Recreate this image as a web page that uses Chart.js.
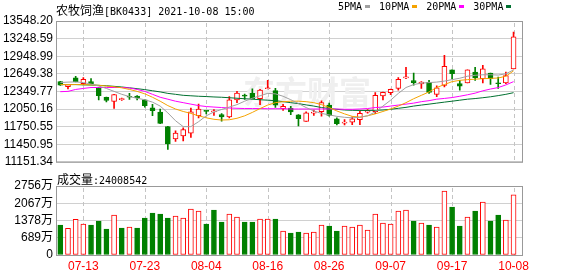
<!DOCTYPE html>
<html>
<head>
<meta charset="utf-8">
<script src="https://cdn.jsdelivr.net/npm/chart.js@4.4.0/dist/chart.umd.min.js"></script>
<style>
  body { margin: 0; width: 578px; height: 276px; background: #fff; position: relative; overflow: hidden; }
  canvas { position: absolute; left: 0; }
  #kline { top: 0; }
  #vol { top: 172px; }
  .txt { position: absolute; color: #000; white-space: nowrap; line-height: 14px; }
  .cjk { font: 12px "Noto Sans CJK SC", sans-serif; }
  .mono { font: 10px "DejaVu Sans Mono", monospace; }
  #title { left: 56px; top: 1px; }
  #volTitle { left: 57px; top: 170px; }
  #legend { left: 338px; top: 1px; display: flex; align-items: center; }
  #legend i { display: inline-block; width: 5px; height: 3px; margin: 0 9px 0 3px; }
</style>
</head>
<body>
<canvas id="kline" width="578" height="172"></canvas>
<canvas id="vol" width="578" height="104"></canvas>
<div id="title" class="txt"><span class="cjk">农牧饲渔</span><span class="mono">[BK0433] 2021-10-08 15:00</span></div>
<div id="legend" class="txt mono">
  <span>5PMA</span><i style="background:#a0a0a0"></i>
  <span>10PMA</span><i style="background:#f5a300"></i>
  <span>20PMA</span><i style="background:#ff00ff"></i>
  <span>30PMA</span><i style="background:#007030"></i>
</div>
<div id="volTitle" class="txt"><span class="cjk">成交量</span><span class="mono">:24008542</span></div>
<script>
const dates = ['07-08','07-09','07-12','07-13','07-14','07-15','07-16','07-19','07-20','07-21',
  '07-22','07-23','07-26','07-27','07-28','07-29','07-30','08-02','08-03','08-04',
  '08-05','08-06','08-09','08-10','08-11','08-12','08-13','08-16','08-17','08-18',
  '08-19','08-20','08-23','08-24','08-25','08-26','08-27','08-30','08-31','09-01',
  '09-02','09-03','09-06','09-07','09-08','09-09','09-10','09-13','09-14','09-15',
  '09-16','09-17','09-22','09-23','09-24','09-27','09-28','09-29','09-30','10-08'];

const open = [12516,12430,12580,12483,12516,12416,12250,12178,12210,12265,
  12270,12205,12072,11999,11750,11540,11590,11640,11938,12015,
  12000,11955,11917,12205,12272,12316,12228,12395,12362,12055,
  12067,11950,11838,11980,12005,12117,11884,11810,11828,11867,
  11998,12005,12272,12328,12400,12580,12533,12478,12505,12300,
  12450,12716,12483,12495,12678,12566,12660,12485,12495,12733];
const high = [12520,12470,12605,12583,12566,12420,12255,12300,12235,12316,
  12280,12210,12128,12050,11755,11680,11730,12067,12133,12018,
  12040,11972,12262,12350,12305,12395,12383,12540,12400,12128,
  12095,11955,12000,12030,12190,12150,11900,11870,11917,12012,
  12040,12328,12340,12390,12583,12760,12660,12515,12538,12445,
  12965,12716,12538,12716,12760,12795,12660,12595,12678,13360];
const low = [12450,12390,12510,12460,12475,12205,12172,12060,12195,12215,
  12205,12083,11938,11800,11362,11500,11505,11567,11900,11966,
  11940,11845,11900,12160,12215,12222,12122,12390,12078,12028,
  11955,11762,11838,11940,11930,11930,11780,11780,11785,11785,
  11980,11972,12205,12295,12372,12566,12455,12400,12316,12262,
  12428,12566,12372,12495,12538,12495,12470,12400,12483,12733];
const close = [12454,12465,12515,12555,12483,12278,12195,12295,12220,12250,
  12237,12105,12022,11805,11456,11640,11700,12000,12050,12010,
  12005,11917,12205,12322,12268,12222,12372,12400,12117,12095,
  12000,11884,11984,11990,12160,11940,11800,11818,11884,11978,
  12022,12283,12333,12383,12555,12583,12500,12510,12333,12410,
  12778,12650,12438,12716,12583,12733,12566,12480,12620,13277];

const ma5 = [12500,12508,12511,12500,12475,12441,12400,12350,12300,12262,
  12233,12208,12167,12100,11984,11850,11750,11750,11834,11934,
  12000,12042,12083,12125,12183,12233,12275,12316,12308,12267,
  12208,12142,12075,12017,11975,11950,11925,11909,11900,11909,
  11934,12000,12100,12200,12316,12416,12466,12491,12500,12508,
  12525,12550,12574,12608,12624,12633,12633,12628,12649,12716];
const ma10 = [12466,12466,12466,12466,12461,12453,12441,12428,12411,12383,
  12350,12308,12250,12183,12108,12050,12008,11975,11934,11900,
  11875,11862,11867,11892,11934,11992,12058,12117,12158,12175,
  12183,12183,12175,12158,12125,12075,12017,11967,11925,11912,
  11934,11967,12008,12050,12100,12158,12225,12283,12341,12416,
  12466,12516,12538,12550,12558,12566,12571,12578,12608,12699];
const ma20 = [12345,12350,12383,12400,12416,12416,12416,12416,12416,12408,
  12383,12350,12300,12250,12217,12183,12158,12133,12108,12092,
  12083,12075,12067,12062,12058,12058,12058,12055,12055,12055,
  12050,12050,12050,12050,12050,12050,12050,12045,12045,12050,
  12058,12075,12083,12100,12117,12133,12150,12175,12192,12217,
  12230,12245,12267,12292,12320,12360,12390,12415,12460,12516];
const ma30 = [12466,12466,12466,12461,12458,12453,12446,12436,12425,12411,
  12396,12380,12361,12341,12316,12300,12283,12275,12267,12262,
  12255,12250,12242,12233,12225,12217,12208,12200,12192,12175,
  12158,12142,12120,12100,12075,12058,12045,12033,12028,12025,
  12025,12028,12033,12045,12062,12078,12100,12117,12133,12150,
  12167,12183,12200,12217,12228,12242,12258,12278,12300,12328];

// volume in 万
const volume = [1198,1065,1425,1238,1198,1358,1038,1598,1078,1118,
  1078,1478,1677,1638,1478,1558,1478,1837,1757,1238,
  1797,1318,1638,1518,1318,1318,1438,1438,1438,958,
  879,919,879,919,1198,1158,958,1158,1118,1198,
  998,1638,1278,1238,1757,1797,1358,1278,1198,1118,
  2556,1917,1158,1518,1757,2117,1358,1598,1398,2401];
// 1 = red (up) volume bar, 0 = green
const volUp = [0,1,1,1,0,0,0,1,0,1,
  0,0,0,0,0,1,1,1,1,0,
  0,0,1,1,0,0,1,1,0,1,
  0,0,1,1,1,0,0,1,1,1,
  1,1,1,1,1,1,0,1,0,1,
  1,0,0,1,0,1,0,0,1,1];

const priceTicks = [11151.34, 11450.95, 11750.55, 12050.16, 12349.77, 12649.38, 12948.99, 13248.59, 13548.20];
const volTicks = [0, 689, 1378, 2067, 2756];
const dateTicks = ['07-13','07-23','08-04','08-16','08-26','09-07','09-17','10-08'];

const RED = '#ff0000';
const GREEN = '#008000';
const AXIS_FONT = { size: 12, family: '"Liberation Sans", "Noto Sans CJK SC", sans-serif' };
const X_MIN = -0.56, X_MAX = 60.1;

const idx = dates.map((d, i) => i);
const tickIdx = dateTicks.map(d => dates.indexOf(d));
const up = idx.map(i => close[i] >= open[i]);

// dashed vertical lines at the date ticks, under the marks
const vLines = {
  id: 'vLines',
  beforeDatasetsDraw(chart) {
    const { ctx, chartArea: a } = chart;
    const xs = chart.scales.x;
    ctx.save();
    ctx.fillStyle = '#c4c4c4';
    tickIdx.forEach(v => {
      const px = Math.round(xs.getPixelForValue(v));
      for (let y = Math.round(a.top) + 2; y < a.bottom; y += 7) {
        ctx.fillRect(px, y, 1, Math.min(4, a.bottom - y));
      }
    });
    ctx.restore();
  }
};

// grey frame round the plot area
const frame = {
  id: 'frame',
  afterDraw(chart) {
    const { ctx, chartArea: a } = chart;
    ctx.save();
    ctx.strokeStyle = '#999';
    ctx.lineWidth = 1;
    ctx.strokeRect(a.left + 0.5, a.top + 0.5, a.right - a.left, a.bottom - a.top);
    ctx.restore();
  }
};

const watermark = {
  id: 'watermark',
  beforeDatasetsDraw(chart) {
    const ctx = chart.ctx;
    ctx.save();
    ctx.fillStyle = '#efefef';
    ctx.font = 'bold 32px "Noto Sans CJK SC"';
    ctx.textBaseline = 'middle';
    ctx.fillText('东方财富', 243, 92);
    ctx.restore();
  }
};

const maLine = (label, values, color) => ({
  type: 'line',
  label,
  data: idx.map(i => ({ x: i, y: values[i] })),
  borderColor: color,
  borderWidth: 1,
  pointRadius: 0,
  tension: 0,
  order: 0
});

const xScale = (extra) => Object.assign({
  type: 'linear',
  min: X_MIN,
  max: X_MAX,
  offset: false,
  afterBuildTicks: s => { s.ticks = tickIdx.map(v => ({ value: v })); },
  grid: { display: false, drawTicks: false },
  border: { display: false }
}, extra);

const yScale = (min, max, ticks, fmt) => ({
  min,
  max,
  afterBuildTicks: s => { s.ticks = ticks.map(v => ({ value: v })); },
  ticks: { callback: fmt, padding: 3, color: '#000', font: AXIS_FONT, autoSkip: false },
  grid: { color: '#d0d0d0', drawTicks: false },
  border: { display: false },
  afterFit: s => { s.width = 56; }
});

new Chart(document.getElementById('kline'), {
  type: 'bar',
  data: {
    datasets: [
      maLine('5PMA', ma5, '#a0a0a0'),
      maLine('10PMA', ma10, '#f5a300'),
      maLine('20PMA', ma20, '#ff00ff'),
      maLine('30PMA', ma30, '#007030'),
      {
        label: 'body',
        data: idx.map(i => ({ x: i, y: [Math.min(open[i], close[i]), Math.max(open[i], close[i])] })),
        backgroundColor: idx.map(i => up[i] ? '#ffffff' : GREEN),
        borderColor: idx.map(i => up[i] ? RED : GREEN),
        borderWidth: 1,
        borderSkipped: false,
        barThickness: 5,
        minBarLength: 1,
        grouped: false,
        order: 1
      },
      {
        label: 'wick',
        data: idx.map(i => ({ x: i, y: [low[i], high[i]] })),
        backgroundColor: idx.map(i => up[i] ? RED : GREEN),
        barThickness: 1,
        grouped: false,
        order: 2
      }
    ]
  },
  options: {
    responsive: false,
    animation: false,
    events: [],
    layout: { padding: { top: 21, right: 56, bottom: 7, left: 0 } },
    plugins: { legend: { display: false }, tooltip: { enabled: false } },
    scales: {
      x: xScale({
        ticks: { display: false },
        afterFit: s => { s.height = 0; }
      }),
      y: yScale(11151.34, 13548.20, priceTicks, v => v.toFixed(2))
    }
  },
  plugins: [vLines, watermark, frame]
});

new Chart(document.getElementById('vol'), {
  type: 'bar',
  data: {
    datasets: [{
      label: '成交量',
      data: idx.map(i => ({ x: i, y: volume[i] })),
      backgroundColor: idx.map(i => volUp[i] ? '#ffffff' : GREEN),
      borderColor: idx.map(i => volUp[i] ? RED : GREEN),
      borderWidth: 1,
      borderSkipped: false,
      barThickness: 5,
      grouped: false
    }]
  },
  options: {
    responsive: false,
    animation: false,
    events: [],
    layout: { padding: { top: 14, right: 56, bottom: 0, left: 0 } },
    plugins: { legend: { display: false }, tooltip: { enabled: false } },
    scales: {
      x: xScale({
        ticks: { callback: v => dates[v], color: RED, padding: 4, maxRotation: 0, autoSkip: false, font: AXIS_FONT },
        afterFit: s => { s.height = 21; }
      }),
      y: yScale(0, 2756, volTicks, v => v ? v + '万' : '0')
    }
  },
  plugins: [vLines, frame]
});
</script>
</body>
</html>
